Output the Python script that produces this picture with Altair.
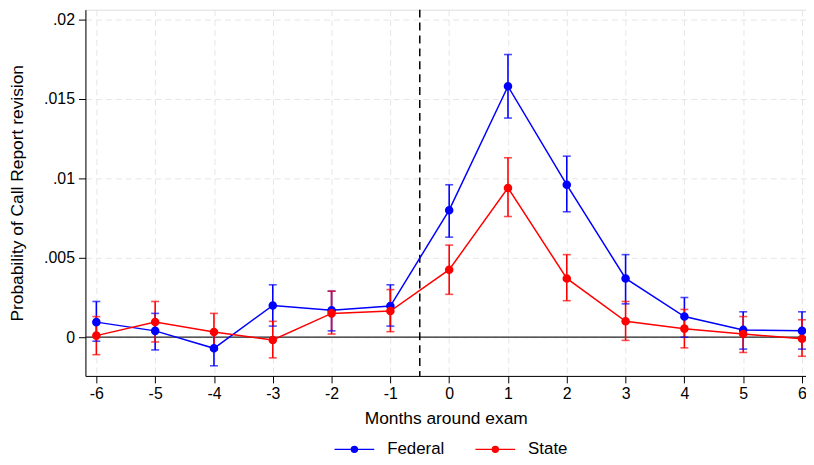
import altair as alt
import pandas as pd

months = list(range(-6, 7))
series_names = ["Federal", "State"]
series_colors = ["#0000ff", "#ff0000"]

fed_est = [0.00095, 0.0004, -0.0007, 0.0020, 0.0017, 0.00196, 0.0080, 0.0158, 0.0096, 0.0037, 0.0013, 0.00046, 0.0004]
fed_lo = [-0.00025, -0.0008, -0.0018, 0.0007, 0.0004, 0.0007, 0.0063, 0.0138, 0.0079, 0.0021, 0.0000, -0.00075, -0.00075]
fed_hi = [0.00225, 0.0015, 0.0004, 0.0033, 0.0029, 0.0033, 0.0096, 0.0178, 0.0114, 0.0052, 0.0025, 0.0016, 0.0016]

state_est = [0.0001, 0.00096, 0.00033, -0.00017, 0.0015, 0.00165, 0.00425, 0.0094, 0.0037, 0.0010, 0.00054, 0.0002, -0.0001]
state_lo = [-0.0011, -0.0003, -0.0008, -0.0013, 0.0002, 0.00035, 0.0027, 0.0076, 0.0023, -0.0002, -0.00067, -0.00096, -0.0012]
state_hi = [0.0013, 0.00225, 0.0015, 0.0010, 0.0029, 0.0030, 0.0058, 0.0113, 0.0052, 0.00225, 0.00175, 0.0013, 0.0011]

y_ticks = [0, 0.005, 0.01, 0.015, 0.02]
exam_line = [-0.5]
zero_line = [0]

rows = []
for name, est, lo, hi in [("Federal", fed_est, fed_lo, fed_hi), ("State", state_est, state_lo, state_hi)]:
    for m, e, l, h in zip(months, est, lo, hi):
        rows.append({"month": m, "series": name, "est": e, "lo": l, "hi": h})
df = pd.DataFrame(rows)

FONT = "Liberation Sans"
color_scale = alt.Scale(domain=series_names, range=series_colors)
x_scale = alt.Scale(domain=[-6.186, 6.068], nice=False, zero=False)
y_scale = alt.Scale(domain=[-0.0024375, 0.020625], nice=False, zero=False)

x_axis = alt.Axis(
    values=months, labelExpr="'' + datum.value", title="Months around exam",
    grid=True, gridDash=[6, 4], gridColor="#e6e6e6", gridWidth=1,
    domainColor="black", domainWidth=1, tickColor="black", tickSize=7,
    labelColor="black", labelFontSize=16, labelPadding=3, labelFont=FONT,
    titleFont=FONT, titleFontSize=17.5, titleFontWeight="normal", titleColor="black",
    titleY=43, titleBaseline="middle",
)
y_axis = alt.Axis(
    values=y_ticks, title="Probability of Call Report revision",
    labelExpr="datum.value == 0 ? '0' : slice(format(datum.value, '.3~f'), 1)",
    grid=True, gridDash=[6, 4], gridColor="#e6e6e6", gridWidth=1,
    domainColor="black", domainWidth=1, tickColor="black", tickSize=7,
    labelColor="black", labelFontSize=16, labelPadding=4, labelFont=FONT,
    titleFont=FONT, titleFontSize=17.5, titleFontWeight="normal", titleColor="black",
    titleX=-68, titleY=184.5, titleAngle=270, titleBaseline="middle", titleAlign="center",
)

base = alt.Chart(df)

grid_layer = base.mark_point(opacity=0).encode(
    x=alt.X("month:Q", scale=x_scale, axis=x_axis),
    y=alt.Y("est:Q", scale=y_scale, axis=y_axis),
)

zero_rule = alt.Chart(pd.DataFrame({"y": zero_line})).mark_rule(color="#222222", strokeWidth=1.3).encode(
    y=alt.Y("y:Q", scale=y_scale)
)
exam_rule = alt.Chart(pd.DataFrame({"x": exam_line})).mark_rule(color="black", strokeWidth=1.5, strokeDash=[8, 5]).encode(
    x=alt.X("x:Q", scale=x_scale)
)

ci = base.mark_rule(strokeWidth=1.6).encode(
    x=alt.X("month:Q", scale=x_scale),
    y=alt.Y("lo:Q", scale=y_scale),
    y2="hi:Q",
    color=alt.Color("series:N", scale=color_scale, legend=None),
)
cap_lo = base.mark_tick(orient="horizontal", size=8, thickness=1.6).encode(
    x=alt.X("month:Q", scale=x_scale),
    y=alt.Y("lo:Q", scale=y_scale),
    color=alt.Color("series:N", scale=color_scale, legend=None),
)
cap_hi = base.mark_tick(orient="horizontal", size=8, thickness=1.6).encode(
    x=alt.X("month:Q", scale=x_scale),
    y=alt.Y("hi:Q", scale=y_scale),
    color=alt.Color("series:N", scale=color_scale, legend=None),
)
lines = base.mark_line(strokeWidth=1.5).encode(
    x=alt.X("month:Q", scale=x_scale),
    y=alt.Y("est:Q", scale=y_scale),
    color=alt.Color("series:N", scale=color_scale, legend=None),
    detail="series:N",
)

sym_path = "M-1,0H1M-0.15,0a0.15,0.15 0 1,0 0.3,0a0.15,0.15 0 1,0 -0.3,0"
legend_kw = dict(
    title=None, orient="none", legendX=250, legendY=422, direction="horizontal",
    symbolType=sym_path, symbolSize=1600, symbolStrokeWidth=1.5,
    labelFont=FONT, labelFontSize=17, labelColor="black", labelOffset=12,
    columnPadding=28,
)
points = base.mark_point(filled=True, size=44, opacity=1).encode(
    x=alt.X("month:Q", scale=x_scale),
    y=alt.Y("est:Q", scale=y_scale),
    fill=alt.Fill("series:N", scale=color_scale, legend=alt.Legend(**legend_kw)),
    stroke=alt.Stroke("series:N", scale=color_scale, legend=alt.Legend(**legend_kw)),
)

chart = alt.layer(grid_layer, zero_rule, exam_rule, ci, cap_lo, cap_hi, lines, points).resolve_legend(
    color="independent"
).properties(
    width=726, height=369,
    autosize=alt.AutoSizeParams(type="none"),
    padding={"left": 78, "top": 0, "right": 0, "bottom": 80},
).configure_view(stroke=None).configure(background="white")

chart.save("out.html", embed_options={"renderer": "svg", "actions": False})
